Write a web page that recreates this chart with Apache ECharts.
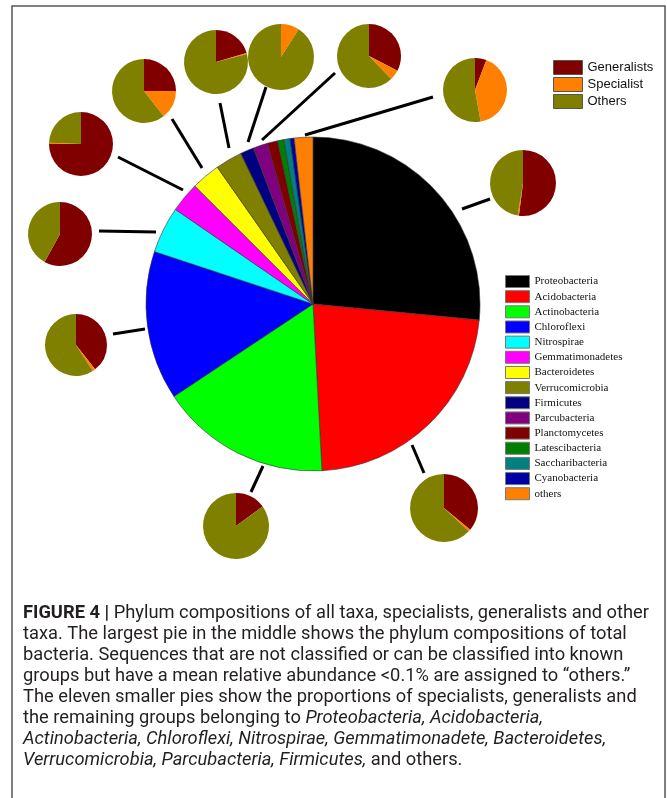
<!DOCTYPE html>
<html>
<head>
<meta charset="utf-8">
<script src="https://cdn.jsdelivr.net/npm/echarts@6/dist/echarts.min.js"></script>
<style>
  html, body { margin: 0; padding: 0; background: #fff; }
  #chart { width: 667px; height: 798px; }
</style>
</head>
<body>
<div id="chart"></div>
<script>
// main pie: share of total bacteria (%), clockwise from 12 o'clock
const phyla = ['Proteobacteria', 'Acidobacteria', 'Actinobacteria', 'Chloroflexi', 'Nitrospirae',
  'Gemmatimonadetes', 'Bacteroidetes', 'Verrucomicrobia', 'Firmicutes', 'Parcubacteria',
  'Planctomycetes', 'Latescibacteria', 'Saccharibacteria', 'Cyanobacteria', 'others'];
const phylumShare = [26.5, 22.6, 16.5, 14.4, 4.5, 2.9, 2.8, 2.6, 1.3, 1.4, 1.0, 0.6, 0.6, 0.4, 1.8];
const phylumColors = ['#000000', '#ff0000', '#00ff00', '#0000ff', '#00ffff', '#ff00ff', '#ffff00',
  '#808000', '#000080', '#800080', '#800000', '#008000', '#008080', '#0000a8', '#ff8000'];

// small pies: generalists / specialists / the rest within each group (%)
const groups = ['Proteobacteria', 'Acidobacteria', 'Actinobacteria', 'Chloroflexi', 'Nitrospirae',
  'Gemmatimonadetes', 'Bacteroidetes', 'Verrucomicrobia', 'Firmicutes', 'Parcubacteria', 'others'];
const generalists = [52, 36, 15, 39.4, 58, 75, 25, 20.5, 0, 32.6, 5.8];
const specialists = [0.6, 1, 0, 1.5, 0, 0.6, 14.5, 0.5, 9, 5.2, 41.4];
const restShare = [47.4, 63, 85, 59.1, 42, 24.4, 60.5, 79, 91, 62.2, 52.8];
const roleNames = ['Generalists', 'Specialist', 'Others'];
const roleColors = ['#800000', '#ff8000', '#808000'];

// where each small pie sits and its connector to the big pie
const smallLayout = [
  {c: [523, 183], r: 33, line: [462, 209, 490, 199]},
  {c: [444, 508], r: 34, line: [412, 445, 424, 473]},
  {c: [236, 526], r: 33, line: [263, 466, 251, 492]},
  {c: [76, 345], r: 31, line: [113, 334, 145, 329]},
  {c: [60, 234], r: 32, line: [99, 231, 156, 232]},
  {c: [81, 144], r: 32, line: [118, 157, 183, 190]},
  {c: [144, 91], r: 32, line: [172, 119, 202, 168]},
  {c: [216, 62], r: 32, line: [220, 103, 229, 148]},
  {c: [281, 57], r: 33, line: [266, 87, 248, 142]},
  {c: [369, 56], r: 32, line: [335, 73, 262, 140]},
  {c: [475, 90], r: 32, line: [433, 97, 305, 135]},
];

const captionLines = [
  [['b', 'FIGURE 4 |'], ['n', ' Phylum compositions of all taxa, specialists, generalists and other']],
  [['n', 'taxa. The largest pie in the middle shows the phylum compositions of total']],
  [['n', 'bacteria. Sequences that are not classified or can be classified into known']],
  [['n', 'groups but have a mean relative abundance <0.1% are assigned to \u201cothers.\u201d']],
  [['n', 'The eleven smaller pies show the proportions of specialists, generalists and']],
  [['n', 'the remaining groups belonging to '], ['i', 'Proteobacteria, Acidobacteria,']],
  [['i', 'Actinobacteria, Chloroflexi, Nitrospirae, Gemmatimonadete, Bacteroidetes,']],
  [['i', 'Verrucomicrobia, Parcubacteria, Firmicutes,'], ['n', ' and others.']],
];

const capFont = 'Roboto';
const capSize = 18;
const capStyles = {
  n: {fontFamily: capFont, fontSize: capSize, fill: '#231f20'},
  b: {fontFamily: capFont, fontSize: capSize, fontWeight: 'bold', fill: '#231f20'},
  i: {fontFamily: capFont, fontSize: capSize, fontStyle: 'italic', fill: '#231f20'},
};

// squeeze the caption to the condensed width of the original
const ctx = document.createElement('canvas').getContext('2d');
function segWidth(seg) {
  const st = capStyles[seg[0]];
  ctx.font = `${st.fontStyle || 'normal'} ${st.fontWeight || 'normal'} ${capSize}px ${capFont}`;
  return ctx.measureText(seg[1]).width;
}
const firstWidth = captionLines[0].reduce((s, seg) => s + segWidth(seg), 0);
const capScale = 626 / firstWidth;

const series = [];
series.push({
  type: 'pie',
  name: 'total bacteria',
  center: [313, 304],
  radius: 167,
  startAngle: 90,
  label: {show: false},
  labelLine: {show: false},
  emphasis: {scale: false},
  itemStyle: {borderColor: '#333', borderWidth: 0.6},
  data: phyla.map((name, i) => ({name: name, value: phylumShare[i], itemStyle: {color: phylumColors[i]}})),
});

groups.forEach((group, i) => {
  const parts = [generalists[i], specialists[i], restShare[i]];
  series.push({
    type: 'pie',
    // series names must not clash with the phylum legend entries
    name: 'roles in ' + group,
    center: smallLayout[i].c,
    radius: smallLayout[i].r,
    startAngle: 90,
    label: {show: false},
    labelLine: {show: false},
    emphasis: {scale: false},
    itemStyle: {borderWidth: 0},
    data: roleNames.map((name, k) => ({name: name, value: parts[k], itemStyle: {color: roleColors[k]}})),
  });
});

const graphics = [{
  type: 'rect',
  shape: {x: 12, y: 6, width: 653, height: 830},
  style: {fill: 'none', stroke: '#555', lineWidth: 1.5},
  silent: true,
}];

smallLayout.forEach(item => {
  graphics.push({
    type: 'line',
    shape: {x1: item.line[0], y1: item.line[1], x2: item.line[2], y2: item.line[3]},
    style: {stroke: '#000', lineWidth: 3},
    silent: true,
  });
});

captionLines.forEach((line, i) => {
  graphics.push({
    type: 'text',
    x: 23,
    y: 613 + i * 21,
    scaleX: capScale,
    silent: true,
    style: {
      text: line.map(seg => `{${seg[0]}|${seg[1]}}`).join(''),
      fontFamily: capFont,
      fontSize: capSize,
      fill: '#231f20',
      verticalAlign: 'middle',
      rich: capStyles,
    },
  });
});

const chart = echarts.init(document.getElementById('chart'));
chart.setOption({
  animation: false,
  backgroundColor: '#fff',
  legend: [{
    data: roleNames,
    orient: 'vertical',
    left: 553,
    top: 60,
    padding: 0,
    icon: 'rect',
    itemWidth: 29,
    itemHeight: 14,
    itemGap: 2,
    itemStyle: {borderColor: '#555', borderWidth: 1},
    textStyle: {fontFamily: 'Liberation Sans', fontSize: 13, color: '#111'},
  }, {
    data: phyla,
    orient: 'vertical',
    left: 505,
    top: 275,
    padding: 0,
    icon: 'rect',
    itemWidth: 24,
    itemHeight: 12,
    itemGap: 2.16,
    itemStyle: {borderColor: '#777', borderWidth: 1},
    textStyle: {fontFamily: 'Liberation Serif', fontSize: 11, color: '#111'},
  }],
  series: series,
  graphic: graphics,
});
</script>
</body>
</html>
